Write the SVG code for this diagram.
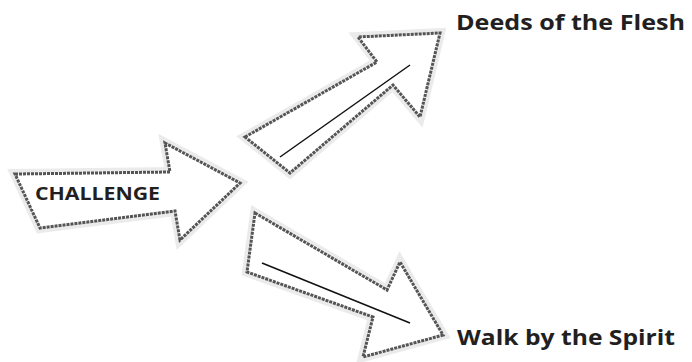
<svg xmlns="http://www.w3.org/2000/svg" width="692" height="362" viewBox="0 0 692 362">
<style>
.halo{fill:none;stroke:#ebebeb;stroke-width:10;stroke-linejoin:miter}
.arrow{fill:#ffffff;stroke:#555;stroke-width:3;stroke-linejoin:miter;stroke-dasharray:3 1}
.inner{stroke:#111;stroke-width:1.5}
.lbl{font-family:"Open Sans","Noto Sans",sans-serif;font-weight:bold;font-size:21px;fill:#231f20}
.clbl{font-family:"Open Sans","Noto Sans",sans-serif;font-weight:bold;font-size:17px;fill:#231f20}
</style>
<rect width="692" height="362" fill="#fff"/>
<g id="challenge">
<polygon class="halo" points="15,174 170,172 165,143 240,183 180,240 175,211 40,228"/>
<polygon class="arrow" points="15,174 170,172 165,143 240,183 180,240 175,211 40,228"/>
<rect x="32" y="179" width="131" height="30" fill="#fff"/>
<text class="clbl" x="35" y="200" textLength="125" lengthAdjust="spacingAndGlyphs">CHALLENGE</text>
</g>
<g id="connectors">
<g id="flesh-arrow">
<polygon class="halo" points="245,137 377,62 358,37 440,33 420,117 393,85 290,173"/>
<polygon class="arrow" points="245,137 377,62 358,37 440,33 420,117 393,85 290,173"/>
<line class="inner" x1="280" y1="157" x2="410" y2="65"/>
</g>
<g id="spirit-arrow">
<polygon class="halo" points="255,213 387,290 400,262 443,335 363,357 373,317 247,272"/>
<polygon class="arrow" points="255,213 387,290 400,262 443,335 363,357 373,317 247,272"/>
<line class="inner" x1="262" y1="263" x2="410" y2="323"/>
</g>
</g>
<g id="deeds">
<text class="lbl" x="456" y="30" textLength="229" lengthAdjust="spacingAndGlyphs">Deeds of the Flesh</text>
</g>
<g id="walk">
<text class="lbl" x="457" y="345" textLength="218" lengthAdjust="spacingAndGlyphs">Walk by the Spirit</text>
</g>
</svg>
